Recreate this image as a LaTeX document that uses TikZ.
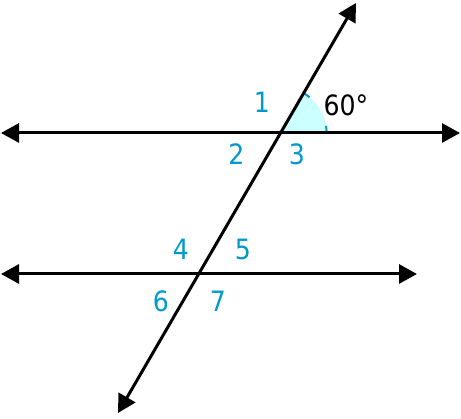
\documentclass[tikz,border=0pt]{standalone}
\usepackage{fontspec}
\setmainfont{DejaVu Sans Condensed}
\usetikzlibrary{arrows.meta}
\definecolor{lbl}{HTML}{0099CC}
\definecolor{angfill}{HTML}{CCFFFF}
\begin{document}
\begin{tikzpicture}[x=1pt,y=1pt,
  ln/.style={line width=3pt,{Triangle[length=18pt,width=19pt]}-{Triangle[length=18pt,width=19pt]}},
  num/.style={text=lbl,font=\fontsize{28}{28}\selectfont,inner sep=0pt},
  deg/.style={text=black,font=\fontsize{28}{28}\selectfont,inner sep=0pt}]
\useasboundingbox (0,0) rectangle (461,419);
\coordinate (L1) at (1,286);
\coordinate (R1) at (460,286);
\coordinate (L2) at (1,145);
\coordinate (R2) at (417,145);
\coordinate (T) at (356,416);
\coordinate (B) at (118,6);
\coordinate (X1) at (280.6,286);
\coordinate (X2) at (198.7,145);
% angle
\fill[angfill] (X1) -- ++(46,0) arc[start angle=0,end angle=60,radius=46] -- cycle;
\draw[lbl,line width=2pt] ([shift={(0:46)}]X1) arc[start angle=0,end angle=9,radius=46];
\draw[lbl,line width=2pt] ([shift={(51:46)}]X1) arc[start angle=51,end angle=60,radius=46];
% lines
\draw[ln] (L1) -- (R1);
\draw[ln] (L2) -- (R2);
\draw[ln] (B) -- (T);
% labels
\node[num] (n1) at (262,317) {1};
\node[num] (n2) at (236.5,264.5) {2};
\node[num] (n3) at (297,264.5) {3};
\node[num] (n4) at (181,170) {4};
\node[num] (n5) at (243,170) {5};
\node[num] (n6) at (161,118) {6};
\node[num] (n7) at (218,118) {7};
\node[deg] (d60) at (346,314) {60°};
\end{tikzpicture}
\end{document}
